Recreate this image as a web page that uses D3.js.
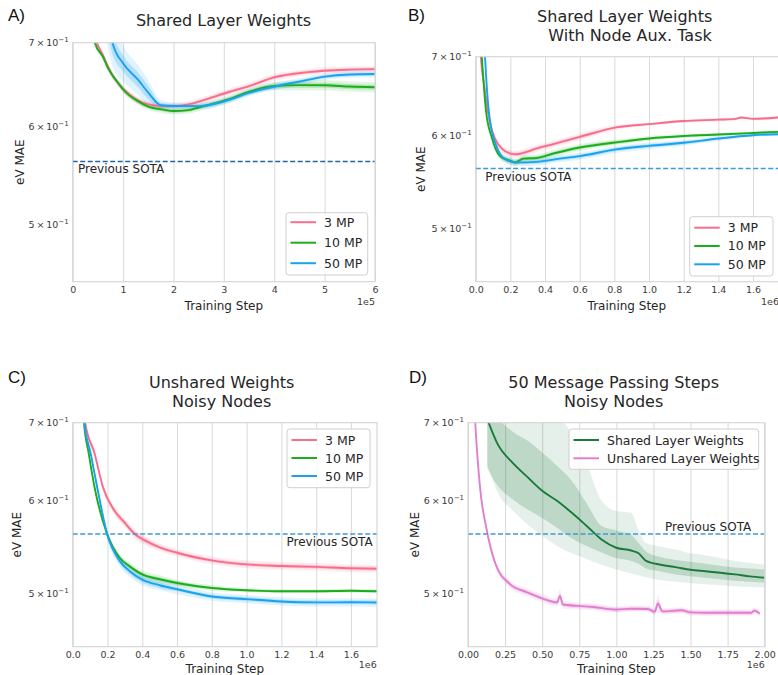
<!DOCTYPE html>
<html>
<head>
<meta charset="utf-8">
<script src="https://cdn.jsdelivr.net/npm/d3@7"></script>
<style>
  body { margin: 0; background: #fff; }
  text { font-family: "DejaVu Sans", sans-serif; fill: #262626; }
</style>
</head>
<body>
<svg width="778" height="675"></svg>
<script>
// ---- data ----
// rows: [training step, eV MAE, inner band half width, outer band half width]
var aPink = [[0.3,0.75,0.002,0.004],[0.48,0.70,0.002,0.004],[0.6,0.684,0.002,0.004],[0.7,0.670,0.002,0.004],[0.81,0.657,0.002,0.004],
  [1.0,0.643,0.002,0.004],[1.27,0.630,0.002,0.004],[1.5,0.6245,0.002,0.004],[1.8,0.6225,0.002,0.004],[2.0,0.6225,0.002,0.004],
  [2.3,0.6245,0.002,0.004],[2.6,0.6295,0.002,0.004],[3.1,0.639,0.002,0.004],[3.5,0.646,0.002,0.004],[4.0,0.6566,0.002,0.004],
  [4.4,0.661,0.002,0.004],[5.0,0.6647,0.002,0.004],[5.5,0.666,0.002,0.004],[6.0,0.6666,0.002,0.004]];
var aGreen = [[0.3,0.75,0.002,0.004],[0.44,0.70,0.002,0.004],[0.6,0.682,0.002,0.004],[0.7,0.668,0.002,0.004],[0.9,0.650,0.002,0.004],
  [1.0,0.642,0.002,0.004],[1.3,0.628,0.002,0.004],[1.5,0.622,0.002,0.004],[1.8,0.6185,0.002,0.004],[2.0,0.617,0.002,0.004],
  [2.3,0.618,0.002,0.004],[2.5,0.621,0.002,0.004],[3.1,0.6305,0.002,0.004],[3.5,0.6394,0.002,0.004],[4.0,0.6462,0.003,0.005],
  [4.5,0.6472,0.003,0.006],[5.0,0.6471,0.003,0.006],[5.5,0.6455,0.003,0.006],[6.0,0.6446,0.003,0.006]];
var aBlue = [[0.6,0.78,0.03,0.05],[0.79,0.70,0.015,0.03],[1.0,0.6738,0.010,0.022],[1.3,0.6534,0.009,0.018],[1.5,0.6382,0.008,0.015],
  [1.75,0.6235,0.003,0.006],[2.0,0.6227,0.002,0.004],[2.5,0.6225,0.002,0.004],[3.1,0.6297,0.002,0.004],[3.5,0.638,0.002,0.004],
  [4.0,0.6453,0.002,0.004],[4.5,0.6514,0.002,0.004],[5.0,0.6574,0.002,0.004],[5.5,0.660,0.002,0.004],[6.0,0.6606,0.002,0.004]];

var bPink = [[0.02,0.75,0.002,0.004],[0.03,0.70,0.002,0.004],[0.05,0.66,0.002,0.004],[0.083,0.614,0.002,0.004],[0.111,0.596,0.002,0.004],
  [0.15,0.5846,0.002,0.004],[0.198,0.579,0.002,0.004],[0.237,0.578,0.002,0.004],[0.3,0.581,0.002,0.004],[0.352,0.5846,0.002,0.004],
  [0.448,0.5896,0.002,0.004],[0.6,0.598,0.002,0.004],[0.81,0.6093,0.001,0.003],[1.0,0.6132,0.001,0.002],[1.2,0.6169,0.001,0.002],
  [1.4,0.6186,0.001,0.002],[1.5,0.6195,0.001,0.002],[1.53,0.6212,0.001,0.002],[1.6,0.6196,0.001,0.002],[1.75,0.6214,0.001,0.002]];
var bGreen = [[0.02,0.75,0.002,0.004],[0.035,0.70,0.002,0.004],[0.059,0.630,0.002,0.004],[0.092,0.598,0.002,0.004],[0.14,0.576,0.002,0.004],
  [0.2,0.5705,0.002,0.004],[0.227,0.5687,0.002,0.004],[0.275,0.573,0.002,0.004],[0.352,0.5738,0.002,0.004],[0.448,0.5788,0.002,0.004],
  [0.6,0.5857,0.002,0.004],[0.833,0.5922,0.002,0.003],[1.0,0.5961,0.001,0.003],[1.2,0.599,0.001,0.002],[1.4,0.6008,0.001,0.002],
  [1.6,0.6026,0.001,0.002],[1.75,0.604,0.001,0.002]];
var bBlue = [[0.045,0.75,0.002,0.004],[0.054,0.70,0.002,0.004],[0.073,0.6344,0.002,0.004],[0.092,0.606,0.002,0.004],[0.121,0.5865,0.002,0.004],
  [0.16,0.5738,0.002,0.004],[0.237,0.5687,0.002,0.004],[0.352,0.5694,0.002,0.004],[0.486,0.573,0.002,0.004],[0.6,0.5758,0.002,0.004],
  [0.81,0.5835,0.002,0.004],[1.0,0.5876,0.002,0.004],[1.2,0.5911,0.002,0.003],[1.4,0.5961,0.001,0.003],[1.6,0.600,0.001,0.002],
  [1.75,0.6012,0.001,0.002]];

var cPink = [[0.05,0.76,0.002,0.004],[0.072,0.70,0.002,0.004],[0.126,0.6587,0.003,0.005],[0.174,0.6164,0.003,0.005],[0.24,0.5886,0.003,0.005],
  [0.3,0.5745,0.003,0.005],[0.357,0.562,0.003,0.005],[0.42,0.5545,0.003,0.005],[0.5,0.5475,0.002,0.004],[0.6,0.5416,0.002,0.004],
  [0.8,0.5335,0.002,0.004],[1.0,0.5293,0.002,0.004],[1.2,0.5277,0.002,0.004],[1.4,0.5267,0.002,0.004],[1.6,0.5253,0.002,0.004],
  [1.75,0.5248,0.002,0.004]];
var cGreen = [[0.05,0.76,0.002,0.004],[0.065,0.70,0.002,0.004],[0.092,0.659,0.002,0.004],[0.126,0.616,0.002,0.004],[0.198,0.562,0.002,0.004],
  [0.27,0.5363,0.002,0.004],[0.33,0.527,0.002,0.004],[0.4,0.5189,0.002,0.004],[0.5,0.514,0.002,0.004],[0.6,0.5103,0.002,0.003],
  [0.8,0.5053,0.001,0.003],[1.0,0.503,0.001,0.002],[1.2,0.502,0.001,0.002],[1.4,0.502,0.001,0.002],[1.6,0.5025,0.001,0.002],
  [1.75,0.502,0.001,0.002]];
var cBlue = [[0.05,0.76,0.003,0.005],[0.067,0.70,0.003,0.005],[0.103,0.659,0.003,0.005],[0.141,0.616,0.003,0.005],[0.198,0.562,0.003,0.006],
  [0.27,0.533,0.003,0.006],[0.33,0.522,0.003,0.006],[0.4,0.5137,0.003,0.006],[0.5,0.508,0.003,0.005],[0.6,0.504,0.002,0.005],
  [0.8,0.4968,0.002,0.004],[1.0,0.4943,0.002,0.004],[1.2,0.492,0.002,0.004],[1.4,0.4911,0.002,0.004],[1.6,0.4912,0.002,0.004],
  [1.75,0.491,0.002,0.004]];

// panel D: shared weights with two shaded bands, given as explicit bounds
var dSteps          = [0.13, 0.2, 0.3, 0.4, 0.5, 0.6, 0.7, 0.8, 0.9, 1.0, 1.1, 1.15, 1.2, 1.3, 1.4, 1.5, 1.6, 1.7, 1.8, 1.9, 2.0];
var dSharedMean     = [0.705,0.671,0.647,0.629,0.612,0.600,0.586,0.571,0.556,0.547,0.544,0.541,0.533,0.529,0.5265,0.5237,0.5222,0.5207,0.519,0.517,0.5156];
var dSharedInnerLo  = [0.640,0.618,0.602,0.590,0.580,0.569,0.557,0.549,0.542,0.536,0.533,0.530,0.525,0.522,0.519,0.517,0.5155,0.514,0.5125,0.5115,0.5105];
var dSharedInnerHi  = [0.750,0.710,0.688,0.676,0.660,0.643,0.624,0.597,0.571,0.566,0.561,0.552,0.543,0.537,0.534,0.532,0.530,0.528,0.526,0.525,0.524];
var dSharedOuterLo  = [0.645,0.610,0.589,0.573,0.560,0.549,0.541,0.535,0.529,0.524,0.520,0.518,0.516,0.513,0.5115,0.510,0.509,0.508,0.507,0.5063,0.5058];
var dSharedOuterHi  = [0.800,0.780,0.760,0.740,0.725,0.710,0.685,0.646,0.600,0.588,0.586,0.566,0.552,0.548,0.545,0.541,0.539,0.536,0.533,0.531,0.529];
var dUnshared = [[0.035,0.76,0.002,0.004],[0.049,0.70,0.002,0.004],[0.081,0.6164,0.002,0.004],[0.126,0.5668,0.002,0.004],[0.185,0.530,0.002,0.004],
  [0.283,0.5091,0.002,0.004],[0.395,0.5012,0.002,0.004],[0.508,0.4946,0.002,0.004],[0.6,0.491,0.002,0.004],[0.62,0.4975,0.003,0.007],
  [0.64,0.489,0.002,0.004],[0.845,0.4867,0.002,0.003],[1.0,0.4842,0.002,0.003],[1.1,0.485,0.002,0.003],[1.213,0.4848,0.002,0.003],
  [1.258,0.482,0.002,0.003],[1.28,0.490,0.004,0.009],[1.31,0.4825,0.002,0.003],[1.44,0.4835,0.002,0.003],[1.5,0.4815,0.002,0.003],
  [1.6,0.4811,0.002,0.003],[1.75,0.4812,0.002,0.003],[1.91,0.4811,0.002,0.003],[1.93,0.4832,0.002,0.003],[1.966,0.4805,0.002,0.003]];

var sotaValue = 0.562;
var yTickValues = [0.5, 0.6, 0.7];
var yTickMantissa = ["5", "6", "7"];
var mpLabels = ["3 MP", "10 MP", "50 MP"];
var dLabels = ["Shared Layer Weights", "Unshared Layer Weights"];

var pink = "#f96d8c", green = "#1cad1c", blue = "#18a2ef";
var darkGreen = "#1a7a3c", orchid = "#e07fcd";

var svg = d3.select("svg");

function drawPanel(p) {
  var x = d3.scaleLinear().domain(p.xDomain).range([p.left, p.right]);
  var y = d3.scaleLog().domain([0.45, 0.7]).range([p.bottom, p.top]);
  var g = svg.append("g");

  svg.append("clipPath").attr("id", "clip" + p.name)
    .append("rect").attr("x", p.left).attr("y", p.top)
    .attr("width", p.right - p.left).attr("height", p.bottom - p.top);

  // vertical grid + tick labels
  var gx = g.append("g").attr("transform", "translate(0," + p.bottom + ")")
    .call(d3.axisBottom(x).tickValues(p.xTicks)
      .tickFormat(function(d, i) { return p.xTickLabels[i]; })
      .tickSize(-(p.bottom - p.top)).tickPadding(5));
  gx.select(".domain").remove();
  gx.selectAll(".tick line").attr("stroke", "#dcdcdc").attr("stroke-width", 1.1);
  gx.selectAll(".tick text").style("font-family", "DejaVu Sans").style("font-size", "9.5px").style("fill", "#3a3a3a");

  // y tick labels (log axis)
  yTickValues.forEach(function(v, i) {
    var t = g.append("text").attr("x", p.left - 4).attr("y", y(v) + 3.5)
      .attr("text-anchor", "end").style("font-size", "9.5px").style("fill", "#3a3a3a");
    t.append("tspan").text(yTickMantissa[i] + "\u2009\u00d7\u200910");
    t.append("tspan").attr("dy", -4).style("font-size", "7px").text("\u22121");
  });

  var plot = g.append("g").attr("clip-path", "url(#clip" + p.name + ")");

  var outer = d3.area().curve(d3.curveMonotoneX)
    .x(function(d) { return x(d[0]); })
    .y0(function(d) { return y(d[1] - d[3]); })
    .y1(function(d) { return y(d[1] + d[3]); });
  var inner = d3.area().curve(d3.curveMonotoneX)
    .x(function(d) { return x(d[0]); })
    .y0(function(d) { return y(d[1] - d[2]); })
    .y1(function(d) { return y(d[1] + d[2]); });
  var line = d3.line().curve(d3.curveMonotoneX)
    .x(function(d) { return x(d[0]); })
    .y(function(d) { return y(d[1]); });

  if (p.shared) {
    var rows = dSteps.map(function(s, i) {
      return { s: s, m: dSharedMean[i], il: dSharedInnerLo[i], ih: dSharedInnerHi[i], ol: dSharedOuterLo[i], oh: dSharedOuterHi[i] };
    });
    plot.append("path").datum(rows).attr("fill", darkGreen).attr("fill-opacity", 0.11)
      .attr("d", d3.area().curve(d3.curveMonotoneX).x(function(d) { return x(d.s); })
        .y0(function(d) { return y(d.ol); }).y1(function(d) { return y(d.oh); }));
    plot.append("path").datum(rows).attr("fill", darkGreen).attr("fill-opacity", 0.2)
      .attr("d", d3.area().curve(d3.curveMonotoneX).x(function(d) { return x(d.s); })
        .y0(function(d) { return y(d.il); }).y1(function(d) { return y(d.ih); }));
    plot.append("path").datum(rows).attr("fill", "none").attr("stroke", darkGreen).attr("stroke-width", 1.9)
      .attr("d", d3.line().curve(d3.curveMonotoneX).x(function(d) { return x(d.s); }).y(function(d) { return y(d.m); }));
  }

  p.series.forEach(function(s) {
    plot.append("path").datum(s.data).attr("fill", s.color).attr("fill-opacity", 0.13).attr("d", outer);
    plot.append("path").datum(s.data).attr("fill", s.color).attr("fill-opacity", 0.22).attr("d", inner);
  });
  p.series.forEach(function(s) {
    plot.append("path").datum(s.data).attr("fill", "none").attr("stroke", s.color)
      .attr("stroke-width", 1.9).attr("d", line);
  });

  // previous SOTA
  plot.append("line").attr("x1", p.left).attr("x2", p.right)
    .attr("y1", y(sotaValue)).attr("y2", y(sotaValue))
    .attr("stroke", p.sotaColor).attr("stroke-width", 1.4).attr("stroke-dasharray", "5,2.5");
  g.append("text").attr("x", p.sotaX).attr("y", y(sotaValue) + p.sotaDy)
    .attr("text-anchor", p.sotaAnchor).style("font-size", "12px").text("Previous SOTA");

  // frame
  g.append("rect").attr("x", p.left).attr("y", p.top)
    .attr("width", p.right - p.left).attr("height", p.bottom - p.top)
    .attr("fill", "none").attr("stroke", "#d4d4d4").attr("stroke-width", 1.1);

  // titles and labels
  p.title.forEach(function(t, i) {
    g.append("text").attr("x", p.titleX[i]).attr("y", p.titleY + i * 19.5)
      .attr("text-anchor", "middle").style("font-size", "16px").text(t);
  });
  g.append("text").attr("x", p.letterX).attr("y", p.letterY)
    .style("font-family", "Liberation Sans").style("font-size", "17px").style("fill", "#111").text(p.letter);
  g.append("text").attr("x", (p.left + Math.min(p.right, 778)) / 2 + p.xlabelShift).attr("y", p.xlabelY)
    .attr("text-anchor", "middle").style("font-size", "12px").text("Training Step");
  g.append("text").attr("x", p.expX).attr("y", p.xlabelY - 5).attr("text-anchor", p.expAnchor)
    .style("font-size", "9.5px").style("fill", "#3a3a3a").text(p.exp);
  g.append("text").attr("transform", "translate(" + p.ylabelX + "," + ((p.top + p.bottom) / 2) + ") rotate(-90)")
    .attr("text-anchor", "middle").style("font-size", "12px").text("eV MAE");

  // legend
  var lg = g.append("g").attr("transform", "translate(" + p.legend.x + "," + p.legend.y + ")");
  lg.append("rect").attr("width", p.legend.w).attr("height", p.legend.h).attr("rx", 3)
    .attr("fill", "#fff").attr("fill-opacity", 0.85).attr("stroke", "#d0d0d0");
  p.legend.labels.forEach(function(lab, i) {
    var yy = p.legend.first + i * p.legend.gap;
    lg.append("line").attr("x1", 4.5).attr("x2", 30).attr("y1", yy).attr("y2", yy)
      .attr("stroke", p.legend.colors[i]).attr("stroke-width", 2);
    lg.append("text").attr("x", 38).attr("y", yy + 4.5).style("font-size", "12.5px").text(lab);
  });
}

drawPanel({
  name: "A", letter: "A)", letterX: 8, letterY: 21,
  left: 72.7, right: 375, top: 42.7, bottom: 281.7,
  xDomain: [0, 6], xTicks: [0, 1, 2, 3, 4, 5, 6], xTickLabels: ["0", "1", "2", "3", "4", "5", "6"],
  series: [{ data: aPink, color: pink }, { data: aGreen, color: green }, { data: aBlue, color: blue }],
  sotaColor: "#2366a6", sotaX: 78, sotaDy: 12, sotaAnchor: "start",
  title: ["Shared Layer Weights"], titleX: [223.5], titleY: 25.5,
  xlabelY: 309.5, xlabelShift: 0, exp: "1e5", expX: 375, expAnchor: "end", ylabelX: 24,
  legend: { x: 286, y: 212.7, w: 81.7, h: 62.3, first: 9.5, gap: 20.5, labels: mpLabels, colors: [pink, green, blue] }
});

drawPanel({
  name: "B", letter: "B)", letterX: 408, letterY: 21,
  left: 475.7, right: 779, top: 56.7, bottom: 281.7,
  xDomain: [0, 1.75], xTicks: [0, 0.2, 0.4, 0.6, 0.8, 1.0, 1.2, 1.4, 1.6],
  xTickLabels: ["0.0", "0.2", "0.4", "0.6", "0.8", "1.0", "1.2", "1.4", "1.6"],
  series: [{ data: bPink, color: pink }, { data: bGreen, color: green }, { data: bBlue, color: blue }],
  sotaColor: "#3b9ad8", sotaX: 485.3, sotaDy: 12, sotaAnchor: "start",
  title: ["Shared Layer Weights", "With Node Aux. Task"], titleX: [624.7, 630], titleY: 21.5,
  xlabelY: 309.5, xlabelShift: 0, exp: "1e6", expX: 761, expAnchor: "start", ylabelX: 425,
  legend: { x: 689.7, y: 216.7, w: 83.3, h: 59.3, first: 11, gap: 18.3, labels: mpLabels, colors: [pink, green, blue] }
});

drawPanel({
  name: "C", letter: "C)", letterX: 8, letterY: 383,
  left: 72.7, right: 377, top: 422.7, bottom: 646.7,
  xDomain: [0, 1.75], xTicks: [0, 0.2, 0.4, 0.6, 0.8, 1.0, 1.2, 1.4, 1.6],
  xTickLabels: ["0.0", "0.2", "0.4", "0.6", "0.8", "1.0", "1.2", "1.4", "1.6"],
  series: [{ data: cPink, color: pink }, { data: cGreen, color: green }, { data: cBlue, color: blue }],
  sotaColor: "#3b9ad8", sotaX: 372.7, sotaDy: 11.5, sotaAnchor: "end",
  title: ["Unshared Weights", "Noisy Nodes"], titleX: [221.7, 221.7], titleY: 387.5,
  xlabelY: 673, xlabelShift: 0, exp: "1e6", expX: 376.7, expAnchor: "end", ylabelX: 21,
  legend: { x: 287, y: 429, w: 83, h: 58.7, first: 11, gap: 18, labels: mpLabels, colors: [pink, green, blue] }
});

drawPanel({
  name: "D", letter: "D)", letterX: 409, letterY: 383,
  left: 468, right: 764.7, top: 422.7, bottom: 646.7,
  xDomain: [0, 2], xTicks: [0, 0.25, 0.5, 0.75, 1.0, 1.25, 1.5, 1.75, 2.0],
  xTickLabels: ["0.00", "0.25", "0.50", "0.75", "1.00", "1.25", "1.50", "1.75", "2.00"],
  shared: true,
  series: [{ data: dUnshared, color: orchid }],
  sotaColor: "#3b9ad8", sotaX: 751.3, sotaDy: -3, sotaAnchor: "end",
  title: ["50 Message Passing Steps", "Noisy Nodes"], titleX: [613.7, 613.7], titleY: 387.5,
  xlabelY: 673, xlabelShift: 0, exp: "1e6", expX: 764.7, expAnchor: "end", ylabelX: 418.7,
  legend: { x: 569, y: 429, w: 189.7, h: 40.3, first: 11, gap: 18.3, labels: dLabels, colors: [darkGreen, orchid] }
});
</script>
</body>
</html>
